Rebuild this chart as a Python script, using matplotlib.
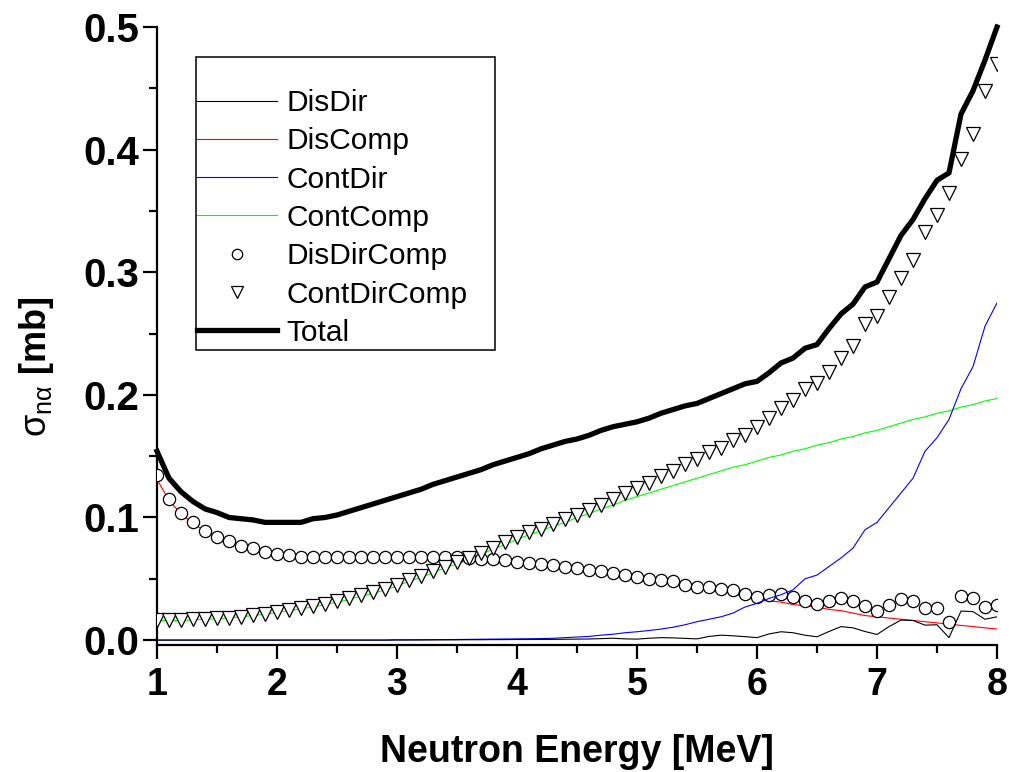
import matplotlib
matplotlib.use("Agg")
import matplotlib.pyplot as plt
from matplotlib.patches import Rectangle

plt.rcParams['font.family'] = ['Liberation Sans', 'DejaVu Sans']
plt.rcParams['mathtext.fontset'] = 'custom'
plt.rcParams['mathtext.rm'] = 'Liberation Sans'
plt.rcParams['mathtext.it'] = 'Liberation Sans'
plt.rcParams['mathtext.bf'] = 'Liberation Sans:bold'

# Neutron energy grid [MeV], 1.0 ... 8.0 in 0.1 steps
energy = [1.0, 1.1, 1.2, 1.3, 1.4, 1.5, 1.6, 1.7, 1.8, 1.9,
          2.0, 2.1, 2.2, 2.3, 2.4, 2.5, 2.6, 2.7, 2.8, 2.9,
          3.0, 3.1, 3.2, 3.3, 3.4, 3.5, 3.6, 3.7, 3.8, 3.9,
          4.0, 4.1, 4.2, 4.3, 4.4, 4.5, 4.6, 4.7, 4.8, 4.9,
          5.0, 5.1, 5.2, 5.3, 5.4, 5.5, 5.6, 5.7, 5.8, 5.9,
          6.0, 6.1, 6.2, 6.3, 6.4, 6.5, 6.6, 6.7, 6.8, 6.9,
          7.0, 7.1, 7.2, 7.3, 7.4, 7.5, 7.6, 7.7, 7.8, 7.9,
          8.0]

dis_dir = [0.0, 0.0, 0.0, 0.0, 0.0, 0.0, 0.0, 0.0, 0.0, 0.0,
           0.0, 0.0, 0.0, 0.0, 0.0, 0.0, 0.0, 0.0, 0.0, 0.0,
           0.0001, 0.0001, 0.0001, 0.0002, 0.0002, 0.0002, 0.0003, 0.0003, 0.0004, 0.0004,
           0.0005, 0.0005, 0.0006, 0.0006, 0.0007, 0.0008, 0.0009, 0.0012, 0.0015, 0.0010,
           0.0008, 0.0015, 0.0020, 0.0018, 0.0014, 0.0010, 0.0030, 0.0040, 0.0035, 0.0028,
           0.0020, 0.0050, 0.0068, 0.0060, 0.0040, 0.0027, 0.0070, 0.0110, 0.0100, 0.0070,
           0.0046, 0.0110, 0.0163, 0.0160, 0.0122, 0.0125, 0.0020, 0.0237, 0.0232, 0.0170,
           0.0190]

dis_comp = [0.131, 0.114, 0.103, 0.095, 0.089, 0.084, 0.080, 0.077, 0.074, 0.072,
            0.070, 0.069, 0.068, 0.068, 0.067, 0.067, 0.067, 0.067, 0.067, 0.067,
            0.067, 0.067, 0.066, 0.066, 0.066, 0.065, 0.065, 0.064, 0.063, 0.063,
            0.062, 0.061, 0.060, 0.059, 0.058, 0.057, 0.056, 0.055, 0.053, 0.052,
            0.051, 0.049, 0.048, 0.047, 0.045, 0.044, 0.042, 0.040, 0.038, 0.035,
            0.033, 0.032, 0.031, 0.029, 0.028, 0.027, 0.025, 0.024, 0.022, 0.020,
            0.019, 0.018, 0.017, 0.016, 0.015, 0.014, 0.013, 0.012, 0.011, 0.010,
            0.009]

cont_dir = [0.0, 0.0, 0.0, 0.0, 0.0, 0.0, 0.0, 0.0, 0.0, 0.0,
            0.0, 0.0, 0.0, 0.0, 0.0, 0.0, 0.0, 0.0, 0.0, 0.0,
            0.0002, 0.0002, 0.0003, 0.0003, 0.0004, 0.0005, 0.0006, 0.0007, 0.0008, 0.0009,
            0.0010, 0.0011, 0.0012, 0.0015, 0.0020, 0.0025, 0.0030, 0.0040, 0.0048, 0.0060,
            0.0068, 0.0078, 0.0090, 0.0105, 0.0125, 0.0150, 0.0170, 0.0190, 0.0220, 0.0270,
            0.0300, 0.0340, 0.0370, 0.0410, 0.0500, 0.0530, 0.0600, 0.0670, 0.0750, 0.0900,
            0.0960, 0.1080, 0.1200, 0.1320, 0.1540, 0.1650, 0.1800, 0.2050, 0.2230, 0.2560,
            0.2750]

cont_comp = [0.016, 0.016, 0.016, 0.0165, 0.017, 0.0175, 0.018, 0.019, 0.020, 0.021,
             0.0225, 0.024, 0.0255, 0.027, 0.029, 0.031, 0.033, 0.036, 0.038, 0.041,
             0.044, 0.048, 0.051, 0.055, 0.059, 0.062, 0.066, 0.070, 0.074, 0.078,
             0.082, 0.086, 0.089, 0.093, 0.096, 0.100, 0.103, 0.107, 0.110, 0.114,
             0.117, 0.120, 0.123, 0.126, 0.129, 0.132, 0.135, 0.138, 0.141, 0.143,
             0.146, 0.149, 0.151, 0.154, 0.156, 0.159, 0.161, 0.164, 0.166, 0.169,
             0.171, 0.174, 0.177, 0.180, 0.182, 0.185, 0.187, 0.190, 0.192, 0.195,
             0.197]

dis_dir_comp = [0.135, 0.115, 0.104, 0.096, 0.089, 0.084, 0.081, 0.077, 0.075, 0.072,
                0.070, 0.069, 0.068, 0.068, 0.068, 0.068, 0.068, 0.068, 0.068, 0.068,
                0.068, 0.068, 0.068, 0.068, 0.068, 0.068, 0.067, 0.0665, 0.066, 0.065,
                0.064, 0.063, 0.062, 0.061, 0.060, 0.0585, 0.0575, 0.0565, 0.055, 0.053,
                0.0515, 0.050, 0.049, 0.048, 0.045, 0.043, 0.043, 0.042, 0.041, 0.038,
                0.0355, 0.0365, 0.038, 0.0355, 0.032, 0.0295, 0.0315, 0.034, 0.032, 0.028,
                0.024, 0.029, 0.0335, 0.032, 0.0265, 0.0265, 0.015, 0.036, 0.034, 0.027,
                0.029]

cont_dir_comp = [0.0165, 0.0165, 0.0165, 0.017, 0.0172, 0.0178, 0.0184, 0.0192, 0.0205, 0.0215,
                 0.023, 0.0245, 0.026, 0.028, 0.0295, 0.0315, 0.034, 0.0365, 0.039, 0.042,
                 0.045, 0.049, 0.0525, 0.056, 0.060, 0.064, 0.067, 0.071, 0.075, 0.080,
                 0.084, 0.088, 0.091, 0.095, 0.099, 0.102, 0.106, 0.110, 0.115, 0.120,
                 0.124, 0.128, 0.134, 0.138, 0.1436, 0.148, 0.153, 0.157, 0.163, 0.167,
                 0.174, 0.181, 0.189, 0.196, 0.205, 0.210, 0.219, 0.230, 0.240, 0.258,
                 0.264, 0.280, 0.295, 0.310, 0.333, 0.347, 0.365, 0.392, 0.413, 0.448,
                 0.470]

total = [0.154, 0.132, 0.121, 0.113, 0.107, 0.104, 0.100, 0.099, 0.098, 0.096,
         0.096, 0.096, 0.096, 0.099, 0.100, 0.102, 0.105, 0.108, 0.111, 0.114,
         0.117, 0.120, 0.123, 0.127, 0.130, 0.133, 0.136, 0.139, 0.143, 0.146,
         0.149, 0.152, 0.156, 0.159, 0.162, 0.164, 0.167, 0.171, 0.174, 0.176,
         0.178, 0.181, 0.185, 0.188, 0.191, 0.193, 0.197, 0.201, 0.205, 0.209,
         0.211, 0.218, 0.226, 0.230, 0.238, 0.241, 0.254, 0.266, 0.274, 0.288,
         0.292, 0.311, 0.330, 0.343, 0.360, 0.375, 0.381, 0.429, 0.448, 0.473,
         0.500]

x_ticks = [1, 2, 3, 4, 5, 6, 7, 8]
y_ticks = [0.0, 0.1, 0.2, 0.3, 0.4, 0.5]
y_tick_labels = ['0.0', '0.1', '0.2', '0.3', '0.4', '0.5']

W, H = 1014, 772
fig = plt.figure(figsize=(W / 100, H / 100), dpi=100)
ax = fig.add_axes([157 / W, 1 - 645 / H, (997 - 157) / W, (645 - 27) / H])

ax.plot(energy, dis_dir, color='black', lw=0.8, label='DisDir', zorder=5)
ax.plot(energy, dis_comp, color='#ff0000', lw=0.8, label='DisComp', zorder=2)
ax.plot(energy, cont_dir, color='#0000ff', lw=0.8, label='ContDir', zorder=4)
ax.plot(energy, cont_comp, color='#00ff00', lw=0.8, label='ContComp', zorder=2)
ax.plot(energy, dis_dir_comp, ls='none', marker='o', ms=8.8, mfc='white',
        mec='black', mew=0.9, label='DisDirComp', zorder=3)
ax.plot(energy, cont_dir_comp, ls='none', marker='v', ms=9.6, mfc='white',
        mec='black', mew=0.9, label='ContDirComp', zorder=6)
ax.plot(energy, total, color='black', lw=3.8, label='Total', zorder=7,
        solid_joinstyle='round', clip_on=False)

ax.set_xlim(1, 8)
ax.set_ylim(-0.004, 0.5)
ax.spines['top'].set_visible(False)
ax.spines['right'].set_visible(False)
for s in ('left', 'bottom'):
    ax.spines[s].set_linewidth(1.6)

ax.set_xticks(x_ticks)
ax.set_xticklabels([str(t) for t in x_ticks])
ax.set_xticks([1.5 + i for i in range(7)], minor=True)
ax.set_yticks(y_ticks)
ax.set_yticklabels(y_tick_labels)
ax.set_yticks([0.05, 0.15, 0.25, 0.35, 0.45], minor=True)
ax.tick_params(which='major', direction='out', length=10, width=1.6)
ax.tick_params(which='minor', direction='out', length=6, width=1.6)
ax.tick_params(axis='x', which='major', pad=6, labelsize=27)
ax.tick_params(axis='y', which='major', pad=3, labelsize=29)
for lab in ax.get_xticklabels() + ax.get_yticklabels():
    lab.set_fontweight('bold')

ax.set_xlabel('Neutron Energy [MeV]', fontsize=27, fontweight='bold', labelpad=22)
ax.set_ylabel(r'$\sigma_{\mathrm{n\alpha}}$ [mb]', fontsize=26, fontweight='bold')
ax.yaxis.set_label_coords(-0.12, 0.45)

leg = ax.legend(loc='upper left', bbox_to_anchor=(197 / W, 1 - 89 / H),
                bbox_transform=fig.transFigure, frameon=False, fontsize=21.5,
                handlelength=2.67, handletextpad=0.33, labelspacing=0.345,
                borderpad=0, borderaxespad=0, markerscale=0.85)
leg.set_zorder(10)
fig.patches.append(Rectangle((196 / W, 1 - 350 / H), (495 - 196) / W, (350 - 57) / H,
                             transform=fig.transFigure, fill=False,
                             edgecolor='black', lw=1.1, zorder=9))

fig.savefig('out.png', dpi=100)
